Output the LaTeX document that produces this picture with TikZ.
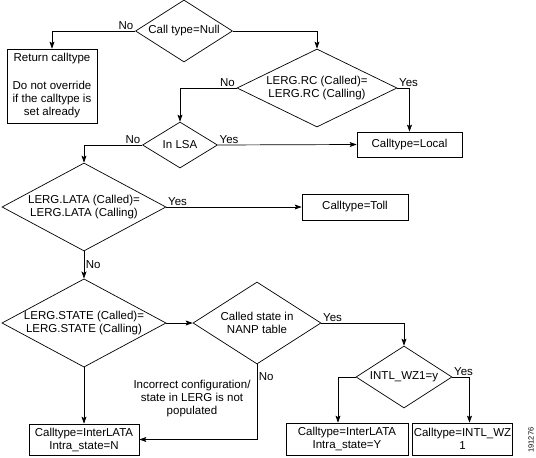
\documentclass[tikz,border=0pt]{standalone}
\usepackage{fontspec}
\setmainfont{Liberation Sans}
\usetikzlibrary{shapes.geometric,arrows.meta}
\tikzset{
  decision/.style={draw, shape=diamond, inner sep=0pt, align=center},
  outcome/.style={draw, rectangle, inner sep=1pt, align=center},
  flow/.style={-{Stealth[length=7pt,width=5pt,inset=1.5pt]}},
  ans/.style={inner sep=1.5pt}
}
\begin{document}
\begin{tikzpicture}[x=1pt, y=-1pt, line width=0.7pt, font=\fontsize{11.5}{13}\selectfont]
  \useasboundingbox (0,0) rectangle (536,458);
  % decisions
  \node[decision, aspect=1.56, minimum width=97pt, minimum height=62pt] (null) at (184,31) {Call type=Null};
  \node[decision, aspect=2.05, minimum width=160pt, minimum height=78pt] (rc) at (317,88)
    {LERG.RC (Called)=\\LERG.RC (Calling)};
  \node[decision, aspect=1.63, minimum width=75pt, minimum height=46pt] (lsa) at (180,145) {In LSA};
  \node[decision, aspect=1.86, minimum width=164pt, minimum height=88pt] (lata) at (84,207)
    {LERG.LATA (Called)=\\LERG.LATA (Calling)};
  \node[decision, aspect=1.86, minimum width=164pt, minimum height=88pt] (state) at (84,323)
    {LERG.STATE (Called)=\\LERG.STATE (Calling)};
  \node[decision, aspect=1.56, minimum width=128pt, minimum height=82pt] (nanp) at (257,323)
    {Called state in\\NANP table};
  \node[decision, aspect=1.55, minimum width=96pt, minimum height=62pt] (intl) at (404,377) {INTL\_WZ1=y};
  % outcomes
  \node[outcome, minimum width=90pt, minimum height=74pt] (ret) at (52,86)
    {Return calltype\\[15pt]Do not override\\if the calltype is\\set already};
  \node[outcome, minimum width=105pt, minimum height=25pt] (local) at (409.5,144.5) {Calltype=Local};
  \node[outcome, minimum width=106pt, minimum height=26pt] (toll) at (355,207) {Calltype=Toll};
  \node[outcome, minimum width=110pt, minimum height=31pt] (interN) at (84,439.5)
    {Calltype=InterLATA\\Intra\_state=N};
  \node[outcome, minimum width=122pt, minimum height=32pt] (interY) at (347,439)
    {Calltype=InterLATA\\Intra\_state=Y};
  \node[outcome, minimum width=91pt, minimum height=32pt] (wz) at (462.5,439)
    {Calltype=INTL\_WZ\\1};
  % notes
  \node[align=center] (note) at (192,399) {Incorrect configuration/\\state in LERG is not\\populated};
  \node[rotate=90, font=\fontsize{7.5}{8}\selectfont] (figid) at (531,440) {191276};
  % connectors
  \draw[flow] (null.west) -| node[ans, pos=0, above left] {No} (ret.north);
  \draw[flow] (null.east) -| (rc.north);
  \draw[flow] (rc.west) -| node[ans, pos=0, above left] {No} (lsa.north);
  \draw[flow] (rc.east) -| node[ans, pos=0, above right] {Yes} (local.north);
  \draw[flow] (lsa.east) -- node[ans, pos=0, above right] {Yes} (local.west);
  \draw[flow] (lsa.west) -| node[ans, pos=0, above left] {No} (lata.north);
  \draw[flow] (lata.east) -- node[ans, pos=0, above right] {Yes} (toll.west);
  \draw[flow] (lata.south) -- node[ans, right] {No} (state.north);
  \draw[flow] (state.east) -- (nanp.west);
  \draw[flow] (state.south) -- (interN.north);
  \draw[flow] (nanp.south) |- node[ans, pos=0.08, right] {No} (interN.east);
  \draw[flow] (nanp.east) -| node[ans, pos=0, above right] {Yes} (intl.north);
  \draw[flow] (intl.west) -| ([xshift=-9pt]interY.north);
  \draw[flow] (intl.east) -| node[ans, pos=0, above right] {Yes} ([xshift=7pt]wz.north);
\end{tikzpicture}
\end{document}
